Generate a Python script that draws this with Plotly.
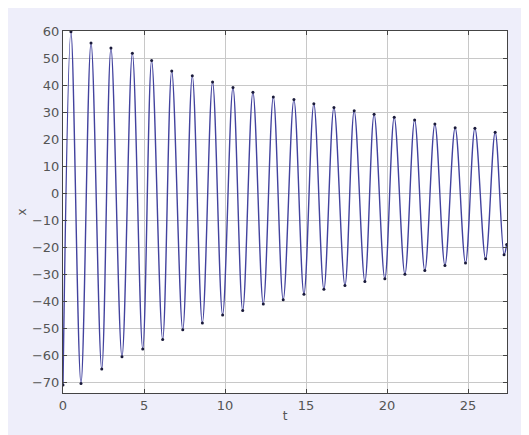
import plotly.graph_objects as go

# Extrema (and end points) of the damped oscillation
t_vals = [0.00, 0.49, 1.11, 1.73, 2.39, 2.96, 3.64, 4.28, 4.92, 5.47, 6.15,
          6.71, 7.39, 7.98, 8.60, 9.23, 9.85, 10.49, 11.09, 11.72, 12.36,
          12.98, 13.59, 14.25, 14.87, 15.48, 16.10, 16.72, 17.40, 17.97,
          18.63, 19.20, 19.86, 20.44, 21.10, 21.70, 22.33, 22.95, 23.57,
          24.20, 24.84, 25.42, 26.08, 26.67, 27.22, 27.38]
x_vals = [-71.0, 59.7, -70.5, 55.6, -65.1, 53.7, -60.6, 51.8, -57.7, 49.1, -54.2,
          45.2, -50.6, 43.4, -48.1, 41.1, -45.1, 39.1, -43.5, 37.3, -41.1,
          35.6, -39.5, 34.6, -37.4, 33.1, -35.6, 31.7, -34.2, 30.5,
          -32.7, 29.2, -31.7, 28.1, -30.0, 27.1, -28.7, 25.6, -26.8,
          24.2, -25.9, 24.0, -24.3, 22.5, -22.8, -19.0]

x_ticks = [0, 5, 10, 15, 20, 25]
y_ticks = [-70, -60, -50, -40, -30, -20, -10, 0, 10, 20, 30, 40, 50, 60]

fig = go.Figure()
fig.add_trace(go.Scatter(
    x=t_vals, y=x_vals, mode="lines+markers",
    line=dict(color="#42429e", width=1.4, shape="spline", smoothing=1.0),
    marker=dict(color="#1a1a3a", size=3),
    showlegend=False,
))

axis_common = dict(
    showgrid=True, gridcolor="#c8c8c8", gridwidth=1,
    showline=True, linecolor="#444444", linewidth=1, mirror="ticks",
    ticks="inside", ticklen=4, tickcolor="#444444",
    zeroline=False, automargin=False,
    tickfont=dict(family="DejaVu Sans", size=13, color="#555555"),
)

fig.update_layout(
    width=529, height=435,
    margin=dict(l=55, r=30, t=23, b=50),
    paper_bgcolor="#eeeefa",
    plot_bgcolor="#ffffff",
    xaxis=dict(range=[0, 27.4], tickvals=x_ticks,
               title=dict(text="t", font=dict(family="DejaVu Sans", size=12, color="#555555"), standoff=0),
               **axis_common),
    yaxis=dict(range=[-74, 60], tickvals=y_ticks,
               title=dict(text="x", font=dict(family="DejaVu Sans", size=12, color="#555555"), standoff=2),
               **axis_common),
)

fig.write_html("out.html")
